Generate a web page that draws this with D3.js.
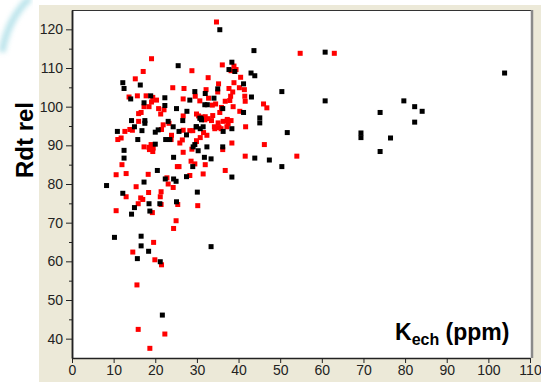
<!DOCTYPE html>
<html>
<head>
<meta charset="utf-8">
<script src="https://cdn.jsdelivr.net/npm/d3@7/dist/d3.min.js"></script>
<style>
  html, body { margin: 0; padding: 0; background: #fff; }
  svg { display: block; font-family: "Liberation Sans", Arial, sans-serif; }
  .axis text { font-size: 14px; fill: #222; }
  .axis line, .axis path { stroke: #222; }
</style>
</head>
<body>
<div id="chart"></div>
<script>
// Kech (ppm) vs relative yield, two sample groups
const blackPts = [
  [25.5,110.6],[12.2,106.2],[16.4,105.6],[12.5,104.7],[29.5,103.9],[14.1,102.0],[18.9,102.8],[22.3,102.3],
  [28.3,101.7],[17.3,101.0],[22.3,100.3],[25.1,99.5],[27.6,98.8],[35.5,119.9],[43.7,114.5],[38.4,111.5],
  [37.7,109.6],[39.1,109.1],[43.0,108.7],[43.9,108.0],[41.2,105.9],[35.0,104.6],[32.0,103.4],[50.4,103.9],
  [43.1,102.5],[34.1,102.2],[31.9,100.5],[32.5,100.5],[36.2,99.5],[41.2,98.5],[31.0,97.0],[45.1,97.1],
  [14.3,96.4],[17.5,96.4],[17.5,95.7],[23.1,96.2],[26.6,96.4],[10.9,93.6],[15.0,94.8],[16.8,93.8],
  [20.7,94.0],[20.0,93.4],[24.3,94.8],[25.7,93.6],[27.5,92.7],[29.8,94.8],[15.8,91.5],[22.5,91.5],
  [23.5,91.5],[29.5,90.2],[29.1,89.6],[20.0,90.3],[12.5,88.7],[12.5,86.7],[24.4,86.9],[29.0,84.5],
  [20.5,83.5],[27.5,81.9],[22.4,81.3],[24.4,81.3],[25.0,80.7],[17.3,80.5],[8.3,79.6],[12.2,77.6],
  [30.1,77.9],[25.1,75.4],[18.5,74.9],[21.1,74.9],[15.0,73.9],[18.7,73.0],[14.3,72.2],
  [30.7,97.0],[31.1,96.6],[29.9,94.8],[31.5,94.8],[30.8,94.3],[36.3,93.6],[38.4,94.3],[45.1,95.8],
  [51.7,93.3],[32.4,89.6],[30.3,88.6],[36.2,89.6],[31.8,86.9],[33.4,86.5],[43.9,86.7],[47.4,86.2],
  [50.4,84.5],[38.4,81.8],[60.8,114.1],[103.9,108.7],[60.8,101.5],[79.7,101.5],[82.3,100.0],[84.1,98.8],
  [74.0,98.5],[82.3,96.0],[69.4,93.2],[69.4,92.0],[76.5,91.9],[74.0,88.4],
  [10.2,66.2],[16.6,66.5],[16.6,64.0],[18.4,62.6],[15.7,60.7],[21.2,59.9],[21.7,46.1],[33.4,63.8]
];

const redPts = [
  [19.1,112.4],[28.8,109.3],[17.1,109.1],[15.2,107.2],[24.2,104.9],[26.9,104.7],[13.7,102.5],[15.7,102.8],
  [17.8,102.8],[19.4,102.4],[20.3,101.7],[26.7,102.0],[29.6,102.7],[19.1,101.2],[17.3,100.0],[18.5,100.0],
  [20.8,99.5],[22.1,99.2],[16.0,98.2],[16.6,98.5],[21.3,98.1],[29.9,98.1],[26.7,97.6],
  [34.7,121.9],[54.8,113.8],[36.1,110.8],[38.9,110.5],[38.2,109.3],[39.4,109.6],[40.5,107.6],[32.7,107.5],
  [35.2,105.9],[38.9,106.2],[37.7,104.7],[40.2,104.9],[41.4,104.4],[32.2,104.4],[38.6,103.8],[35.0,103.8],
  [38.1,102.7],[41.5,102.7],[32.8,102.2],[37.9,101.6],[41.6,101.4],[30.7,101.5],[36.8,101.4],[34.5,100.7],
  [33.7,100.4],[46.0,100.7],[46.8,99.7],[38.7,100.0],[35.9,99.8],[35.5,98.5],[40.3,98.8],[33.8,97.7],
  [30.4,97.6],[31.3,97.3],[32.0,97.4],[37.3,96.7],
  [16.0,96.2],[23.3,95.7],[12.7,93.6],[13.9,94.1],[14.5,93.9],[21.9,95.3],[21.5,94.1],[23.9,92.6],
  [26.7,93.9],[28.3,93.8],[29.0,93.8],[11.0,91.5],[11.8,91.9],[23.8,91.5],[26.5,91.4],[25.9,90.6],
  [29.9,91.0],[19.0,90.2],[18.5,89.5],[19.5,89.3],[17.3,89.6],[18.6,88.9],[19.4,88.4],[28.8,89.0],
  [26.7,88.2],[28.6,85.9],[29.5,85.2],[12.0,85.0],[25.3,84.5],[25.7,84.5],[10.6,82.4],[13.0,82.7],
  [18.3,82.5],[28.3,82.2],[22.8,81.6],[23.1,80.0],[24.3,79.1],[15.4,79.3],[13.0,76.7],[18.4,77.8],
  [21.4,78.0],[21.2,76.7],[16.5,76.4],[17.0,76.0],[25.4,74.7],[15.9,74.9],[21.4,74.7],[30.2,74.4],
  [19.3,72.6],[10.6,73.1],
  [31.9,96.6],[32.7,96.9],[33.5,96.4],[35.1,95.8],[36.3,96.2],[37.3,96.4],[38.2,96.4],[37.5,95.6],
  [34.2,94.8],[34.3,94.3],[35.3,94.6],[35.8,94.3],[37.2,94.8],[41.7,94.8],[31.6,93.3],[32.4,92.6],
  [30.8,92.0],[29.9,91.2],[38.4,90.6],[36.2,88.9],[46.2,90.2],[41.6,87.2],[54.0,87.2],[32.0,85.0],
  [36.8,83.5],[31.5,82.6],[63.0,113.8],
  [14.6,62.4],[19.6,64.9],[19.9,60.4],[21.5,59.1],[15.6,53.9],[15.9,42.4],[22.3,41.2],[18.7,37.5],
  [24.4,68.5],[25.0,70.5]
];

const xTicks = [0, 10, 20, 30, 40, 50, 60, 70, 80, 90, 100, 110];
const yTicks = [40, 50, 60, 70, 80, 90, 100, 110, 120];
const yMinorTicks = [45, 55, 65, 75, 85, 95, 105, 115];

const width = 541, height = 382;
const pLeft = 72, pRight = 531, pTop = 10, pBottom = 358;

const svg = d3.select('#chart').append('svg')
  .attr('width', width).attr('height', height);

// faint cyan swoosh in the corner
const defs = svg.append('defs');
defs.append('filter').attr('id', 'soft')
  .append('feGaussianBlur').attr('stdDeviation', 2.5);
svg.append('path')
  .attr('d', 'M2,52 Q8,18 30,-2')
  .attr('fill', 'none')
  .attr('stroke', '#8fd3df')
  .attr('stroke-width', 7)
  .attr('opacity', 0.6)
  .attr('filter', 'url(#soft)');

// beige frame
svg.append('rect')
  .attr('x', 39).attr('y', 5)
  .attr('width', width - 39).attr('height', height - 5)
  .attr('fill', '#ece9d8');

// plot area
svg.append('rect')
  .attr('x', pLeft).attr('y', pTop)
  .attr('width', pRight - pLeft).attr('height', pBottom - pTop)
  .attr('fill', '#fff');

const x = d3.scaleLinear().domain([0, 110]).range([pLeft, pRight - 1]);
const y = d3.scaleLinear().domain([35, 125]).range([pBottom, pTop]);

// top and right borders
svg.append('line')
  .attr('x1', pLeft).attr('x2', pRight).attr('y1', pTop + 0.5).attr('y2', pTop + 0.5)
  .attr('stroke', '#333').attr('stroke-width', 1);
svg.append('line')
  .attr('x1', pRight + 1).attr('x2', pRight + 1).attr('y1', pTop).attr('y2', pBottom)
  .attr('stroke', '#8a8a8a').attr('stroke-width', 2.5);

const yAxis = d3.axisLeft(y)
  .tickValues(yTicks)
  .tickSize(6)
  .tickSizeOuter(0)
  .tickPadding(3);

const yMinor = d3.axisLeft(y)
  .tickValues(yMinorTicks)
  .tickSize(3)
  .tickSizeOuter(0)
  .tickFormat('');

const xAxis = d3.axisBottom(x)
  .tickValues(xTicks)
  .tickSize(5)
  .tickSizeOuter(0)
  .tickPadding(2);

svg.append('g')
  .attr('class', 'axis')
  .attr('transform', 'translate(' + pLeft + ',0)')
  .call(yMinor);

svg.append('g')
  .attr('class', 'axis')
  .attr('transform', 'translate(' + pLeft + ',0)')
  .call(yAxis);

svg.append('g')
  .attr('class', 'axis')
  .attr('transform', 'translate(0,' + pBottom + ')')
  .call(xAxis);

svg.selectAll('.axis path.domain').attr('stroke-width', 1.5);

// points: red first, black over it
const size = 5;
svg.append('g').selectAll('rect')
  .data(redPts)
  .enter().append('rect')
  .attr('x', function(d) { return x(d[0]) - size / 2; })
  .attr('y', function(d) { return y(d[1]) - size / 2; })
  .attr('width', size).attr('height', size)
  .attr('fill', '#f00');

svg.append('g').selectAll('rect')
  .data(blackPts)
  .enter().append('rect')
  .attr('x', function(d) { return x(d[0]) - size / 2; })
  .attr('y', function(d) { return y(d[1]) - size / 2; })
  .attr('width', size).attr('height', size)
  .attr('fill', '#000');

// axis titles
svg.append('text')
  .attr('transform', 'translate(33,140) rotate(-90)')
  .attr('text-anchor', 'middle')
  .attr('font-size', 24)
  .attr('font-weight', 'bold')
  .attr('fill', '#000')
  .text('Rdt rel');

const xl = svg.append('text')
  .attr('x', 395).attr('y', 340)
  .attr('font-size', 23)
  .attr('font-weight', 'bold')
  .attr('fill', '#000');
xl.append('tspan').text('K');
xl.append('tspan').attr('font-size', 16).attr('dy', 5).text('ech');
xl.append('tspan').attr('dy', -5).text(' (ppm)');
</script>
</body>
</html>
